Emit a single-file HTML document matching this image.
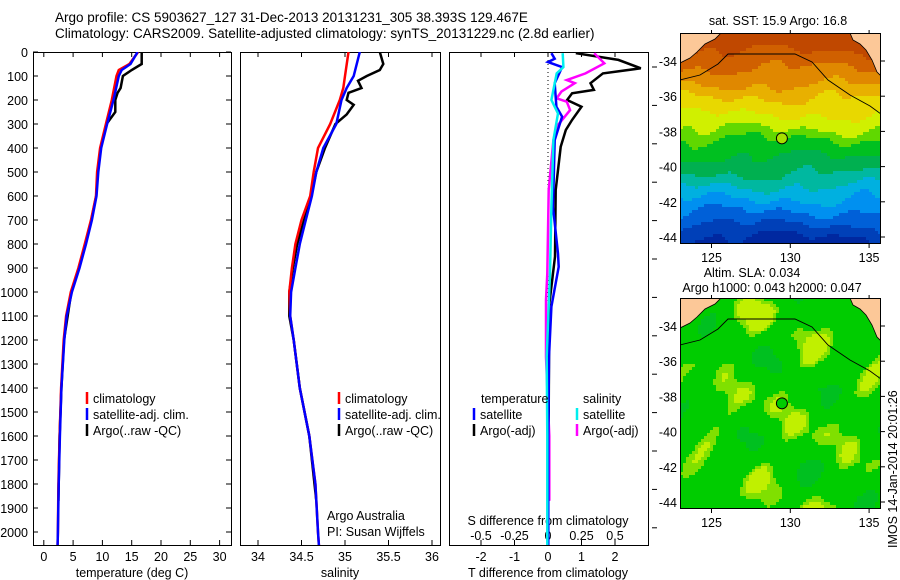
<!DOCTYPE html>
<html><head><meta charset="utf-8"><style>
html,body{margin:0;padding:0;background:#fff;}
svg{display:block;font-family:"Liberation Sans",sans-serif;}
</style></head><body>
<svg id="fig" width="900" height="580" viewBox="0 0 900 580">
<text x="55" y="22" font-size="13.5">Argo profile: CS 5903627_127 31-Dec-2013 20131231_305 38.393S 129.467E</text>
<text x="55" y="38" font-size="13.5">Climatology: CARS2009. Satellite-adjusted climatology: synTS_20131229.nc (2.8d earlier)</text>
<g id="g"></g>
</svg>
<script>
// ---- data ----
const tempDepth = [0,50,75,100,200,300,400,500,600,700,800,900,1000,1100,1200,1400,1600,1800,2000,2055];
const tempClim  = [16.1,14.6,12.8,12.4,11.6,10.6,9.6,9.1,8.9,8.05,7.0,5.9,4.6,3.8,3.4,2.95,2.7,2.5,2.4,2.35];
const tempSat   = [16.0,14.8,13.3,12.8,11.9,10.8,9.8,9.3,9.0,8.2,7.2,6.1,4.8,3.9,3.5,3.0,2.75,2.55,2.4,2.35];
const argoTDepth= [0,50,75,100,150,170,200,250,300,400,500,600,700,800,900,1000,1200,1400,1600,1870];
const argoTemp  = [16.7,16.7,15.0,13.5,13.1,12.6,12.2,12.2,10.7,9.7,9.2,8.95,8.1,7.1,6.0,4.7,3.45,3.0,2.7,2.5];
const salDepth  = [0,100,150,200,300,400,500,600,700,800,900,1000,1100,1200,1400,1600,1800,2000,2055];
const salClim   = [35.04,35.0,34.98,34.94,34.83,34.69,34.64,34.6,34.5,34.43,34.39,34.36,34.37,34.41,34.48,34.59,34.66,34.69,34.7];
const salSat    = [35.17,35.1,35.02,34.96,34.9,34.75,34.67,34.62,34.55,34.48,34.43,34.38,34.37,34.41,34.48,34.59,34.66,34.69,34.7];
const argoSDepth= [0,50,75,100,120,150,170,200,220,260,300,400,500,600,700,800,900,1000,1100,1200,1400,1600,1870];
const argoSal   = [35.4,35.44,35.4,35.25,35.15,35.19,35.04,35.02,35.1,35.02,34.89,34.77,34.67,34.61,34.53,34.45,34.4,34.36,34.36,34.41,34.48,34.59,34.67];
const dTDepth   = [5,33,68,89,130,158,172,200,228,283,325,395,575,853,1061,1270,1500,1870];
const dTArgo    = [0.83,2.1,2.77,1.64,1.27,1.37,0.72,0.57,1.0,0.72,0.53,0.38,0.23,0.21,0.03,0.03,0.02,0.02];
const dTSatDepth= [5,28,42,63,130,228,269,367,646,840,895,1061,1270,1600,2055];
const dTSat     = [0.1,0.2,0.0,0.42,0.2,0.25,0.42,0.2,0.15,0.3,0.32,0.1,0.03,0.01,0.01];
const dSSatDepth= [5,63,89,200,256,367,646,923,1270,1600,2055];
const dSSat     = [0.11,0.115,0.065,0.025,0.075,0.04,0.025,0.015,-0.01,-0.005,-0.005];
const dSArgoDepth=[5,47,89,117,130,165,193,207,242,311,367,575,923,1033,1270,1600,1870];
const dSArgo    = [0.345,0.42,0.28,0.14,0.2,0.1,0.065,0.14,0.165,0.065,0.04,0.005,-0.005,-0.015,-0.015,0.01,0.01];
const depthTicks= [0,100,200,300,400,500,600,700,800,900,1000,1100,1200,1300,1400,1500,1600,1700,1800,1900,2000];
const tempTicks = [0,5,10,15,20,25,30];
const salTicks  = [34,34.5,35,35.5,36];
const dTTicks   = [-2,-1,0,1,2];
const dSTicks   = [-0.5,-0.25,0,0.25,0.5];
const lonTicks  = [125,130,135];
const latTicks  = [-34,-36,-38,-40,-42,-44];
const argoLon = 129.467, argoLat = -38.393;

// ---- axes ----
const NS="http://www.w3.org/2000/svg";
const G=document.getElementById('g');
function el(t,a,p){const e=document.createElementNS(NS,t);for(const k in a)e.setAttribute(k,a[k]);(p||G).appendChild(e);return e;}
const yD=d=>52+0.24*d;
const xT=t=>43.8+5.86*t;
const xS=s=>258+87*(s-34);
const xDT=v=>548+33.5*v;
const xDS=v=>548+134*v;
const TOP=52,BOT=545;
const panels=[[33,231,'temperature-panel'],[240,440,'salinity-panel'],[449,648,'difference-panel']];
const defs=el('defs',{});
panels.forEach((p,i)=>{
  const cp=el('clipPath',{id:'c'+i},defs);el('rect',{x:p[0],y:TOP,width:p[1]-p[0],height:BOT-TOP},cp);
  const r=el('rect',{x:p[0]+.5,y:TOP+.5,width:p[1]-p[0],height:BOT-TOP,fill:'none',stroke:'#000','stroke-width':1});
  
  
});
depthTicks.forEach(d=>{
  const y=yD(d);
  el('line',{x1:33,x2:38,y1:y,y2:y,stroke:'#000'});
  el('line',{x1:226,x2:231,y1:y,y2:y,stroke:'#000'});
  const t=el('text',{x:28,y:y+5,'font-size':12.5,'text-anchor':'end'});t.textContent=d;
  
  
});
for(let y=67;y<545;y+=38.4){el('line',{x1:652,x2:657,y1:y,y2:y,stroke:'#000'});}
function xticks(ticks,fx,ylab){
  ticks.forEach(v=>{const x=fx(v);
    el('line',{x1:x,x2:x,y1:BOT,y2:BOT-5,stroke:'#000'});
    el('line',{x1:x,x2:x,y1:TOP,y2:TOP+5,stroke:'#000'});
    const t=el('text',{x:x,y:ylab,'font-size':12.5,'text-anchor':'middle'});t.textContent=v;
    
    
  });
}
xticks(tempTicks,xT,561);
xticks(salTicks,xS,561);
xticks(dTTicks,xDT,561);
dSTicks.forEach(v=>{const t=el('text',{x:xDS(v),y:540,'font-size':12.5,'text-anchor':'middle'});t.textContent=v;
  
  });
function txt(x,y,s,name,anchor,size){const t=el('text',{x:x,y:y,'font-size':size||12.5,'text-anchor':anchor||'start'});t.textContent=s;
  
  return t;}
txt(132,577,'temperature (deg C)','x-axis-title-temperature','middle');
txt(340,577,'salinity','x-axis-title-salinity','middle');
txt(548,577,'T difference from climatology','x-axis-title-t-diff','middle');
txt(548,525,'S difference from climatology','s-diff-axis-title','middle');
txt(327,520,'Argo Australia','institution-label');
txt(327,536,'PI: Susan Wijffels','pi-label');
el('line',{x1:548,x2:548,y1:TOP,y2:BOT,stroke:'#000','stroke-dasharray':'1,3'});

// ---- series ----
function series(depths,vals,fx,color,w,clip,name){
  const pts=depths.map((d,i)=>fx(vals[i]).toFixed(1)+','+yD(d).toFixed(1)).join(' ');
  const p=el('polyline',{points:pts,fill:'none',stroke:color,'stroke-width':w,'clip-path':'url(#c'+clip+')'});
  
  
}
series(argoTDepth,argoTemp,xT,'#000',2.5,0,'argo-temperature-line');
series(tempDepth,tempClim,xT,'#f00',2.5,0,'climatology-temperature-line');
series(tempDepth,tempSat,xT,'#00f',2.5,0,'satellite-temperature-line');
series(argoSDepth,argoSal,xS,'#000',2.5,1,'argo-salinity-line');
series(salDepth,salClim,xS,'#f00',2.5,1,'climatology-salinity-line');
series(salDepth,salSat,xS,'#00f',2.5,1,'satellite-salinity-line');
series(dTDepth,dTArgo,xDT,'#000',2.5,2,'argo-t-diff-line');
series(dSArgoDepth,dSArgo,xDS,'#f0f',2.5,2,'argo-s-diff-line');
series(dTSatDepth,dTSat,xDT,'#00f',2.5,2,'satellite-t-diff-line');
series(dSSatDepth,dSSat,xDS,'#0ee',2.5,2,'satellite-s-diff-line');

// ---- legends ----
function leg(x,y,c,s,name){el('line',{x1:x,x2:x,y1:y-11,y2:y+1,stroke:c,'stroke-width':2.5});txt(x+6,y,s,name);}
leg(87,403,'#f00','climatology','legend-climatology');
leg(87,419,'#00f','satellite-adj. clim.','legend-satellite-adj');
leg(87,435,'#000','Argo(..raw -QC)','legend-argo');
leg(339,403,'#f00','climatology','legend-climatology-2');
leg(339,419,'#00f','satellite-adj. clim.','legend-satellite-adj-2');
leg(339,435,'#000','Argo(..raw -QC)','legend-argo-2');
txt(481,403,'temperature','legend-temperature-header');
txt(583,403,'salinity','legend-salinity-header');
leg(474,419,'#00f','satellite','legend-t-satellite');
leg(474,435,'#000','Argo(-adj)','legend-t-argo');
leg(577,419,'#0ee','satellite','legend-s-satellite');
leg(577,435,'#f0f','Argo(-adj)','legend-s-argo');

// ---- maps ----
const lonX=l=>711.5+(l-125)*15.76;
function drawMap(oy,kind){
  const x0=680,x1=881,y0=33+oy,y1=244+oy;
  const latY=l=>61+oy+(-34-l)*17.6;
  const cid='m'+oy;
  const cp=el('clipPath',{id:cid},defs);el('rect',{x:x0,y:y0,width:x1-x0,height:y1-y0},cp);
  const mg=el('g',{'clip-path':'url(#'+cid+')'});
  
  
  const cs=3;
  for(let y=y0;y<y1;y+=cs){for(let x=x0;x<x1;x+=cs){
    let c;
    const ny=(y-y0)/211;
    const n=Math.sin(x*0.09+y*0.03)*0.5+Math.sin(x*0.031-y*0.07)*0.6+Math.sin(x*0.17+y*0.13)*0.25;
    if(kind==='sst'){
      const v=ny+n*0.035;
      const stops=[[0,'#c04800'],[0.08,'#d06000'],[0.16,'#e08800'],[0.24,'#e8b000'],[0.3,'#e8d800'],[0.38,'#d0f000'],[0.45,'#60d800'],[0.5,'#00c020'],[0.58,'#00b050'],[0.66,'#00b8a0'],[0.72,'#00b0e0'],[0.78,'#0090f0'],[0.84,'#0060d8'],[0.9,'#0040b8'],[0.96,'#0028a0']];
      c=stops[0][1];for(const s of stops){if(v>=s[0])c=s[1];}
    } else {
      const v=n+Math.sin(x*0.06)*Math.cos(y*0.08)*0.6;
      c=v>0.9?'#c0f000':v>0.55?'#80e000':v<-1.1?'#00c020':'#00cc00';
    }
    el('rect',{x:x,y:y,width:cs,height:cs,fill:c},mg);
  }}
  el('polygon',{points:`680,${y0} 680,${63+oy} 690,${58+oy} 697,${52+oy} 705,${44+oy} 715,${39+oy} 721,${y0}`,fill:'#fcc898',stroke:'#000','stroke-width':0.8},mg);
  el('polygon',{points:`850,${y0} 853,${40+oy} 860,${44+oy} 866,${50+oy} 872,${60+oy} 877,${72+oy} 881,${76+oy} 881,${y0}`,fill:'#fcc898',stroke:'#000','stroke-width':0.8},mg);
  el('polyline',{points:`680,${80+oy} 700,${75+oy} 718,${64+oy} 728,${54+oy} 795,${54+oy} 812,${62+oy} 828,${80+oy} 850,${95+oy} 870,${106+oy} 881,${114+oy}`,fill:'none',stroke:'#000','stroke-width':0.9},mg);
  const circ=el('circle',{cx:lonX(argoLon),cy:latY(argoLat),r:5.5,fill:kind==='sst'?'#a8e000':'#00cc00',stroke:'#000','stroke-width':1});
  
  
  el('rect',{x:x0+.5,y:y0+.5,width:x1-x0-1,height:y1-y0-1,fill:'none',stroke:'#000'});
  lonTicks.forEach(l=>{const x=lonX(l);el('line',{x1:x,x2:x,y1:y1,y2:y1+4,stroke:'#000'});el('line',{x1:x,x2:x,y1:y0,y2:y0-3,stroke:'#000'});txt(x,y1+18,l,'longitude-tick-label','middle');});
  latTicks.forEach(l=>{const y=latY(l);el('line',{x1:x1,x2:x1+4,y1:y,y2:y,stroke:'#000'});txt(677,y+5,l,'latitude-tick-label','end');});
}
drawMap(0,'sst');
drawMap(265,'sla');
txt(778,25,'sat. SST: 15.9 Argo: 16.8','sst-map-title','middle');
txt(752,277,'Altim. SLA: 0.034','sla-map-title','middle');
txt(772,292,'Argo h1000: 0.043 h2000: 0.047','sla-map-subtitle','middle');
const it=txt(0,0,'IMOS 14-Jan-2014 20:01:26','imos-timestamp','start');
it.setAttribute('transform','translate(897,548) rotate(-90)');
</script>
</body></html>
